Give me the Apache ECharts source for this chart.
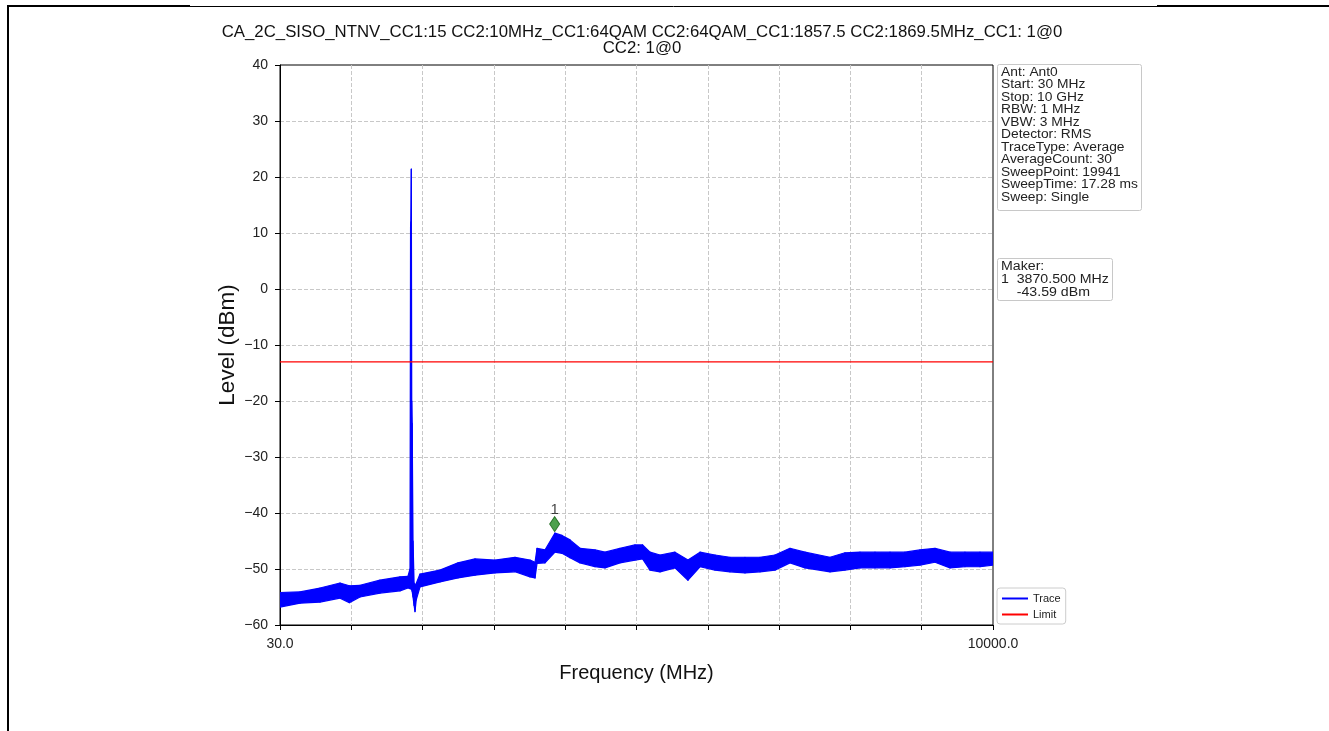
<!DOCTYPE html>
<html><head><meta charset="utf-8">
<script src="https://cdn.jsdelivr.net/npm/echarts@6/dist/echarts.min.js"></script>
<style>html,body{margin:0;padding:0;background:#fff}#c{width:1329px;height:731px}</style>
</head><body><div id="c"></div>
<script>
// ---------- data ----------
const titleLine1 = 'CA_2C_SISO_NTNV_CC1:15 CC2:10MHz_CC1:64QAM CC2:64QAM_CC1:1857.5 CC2:1869.5MHz_CC1: 1@0';
const titleLine2 = 'CC2: 1@0';
const xAxisName = 'Frequency (MHz)';
const yAxisName = 'Level (dBm)';
const xStart = 30, xStop = 10000;
const xEdgeLabels = ['30.0', '10000.0'];
const yMin = -60, yMax = 40, yStep = 10;

// trace envelope (MHz, dBm)
const freqMHz = [30, 310, 589, 869, 1000, 1149, 1428, 1708, 1820, 1848, 1856, 1860, 1866, 1872, 1878, 1890, 1905, 1918, 1935,
  1988, 2267, 2519, 2757, 3036, 3316, 3526, 3596, 3624, 3735, 3875, 3973, 4085, 4225, 4435, 4574, 4784, 4994, 5100,
  5204, 5344, 5553, 5735, 5903, 6113, 6322, 6532, 6742, 6952, 7161, 7371, 7721, 7930, 8140, 8350, 8560, 8769,
  8979, 9189, 9399, 9608, 9818, 10000];
const traceUpper = [-54.2, -54.1, -53.4, -52.5, -53.0, -52.9, -52.0, -51.4, -51.3, -50.0, 11.2, 12.0, 21.4, -20.0, -24.0, -45.0, -52.5, -53.0, -52.6,
  -50.9, -50.2, -48.9, -48.2, -48.4, -47.9, -48.4, -48.8, -46.3, -46.6, -43.6, -44.0, -44.8, -46.3, -46.6, -47.0, -46.3, -45.7, -45.7,
  -47.0, -47.5, -47.0, -48.4, -47.0, -47.5, -47.9, -47.9, -47.9, -47.5, -46.3, -47.0, -47.9, -47.1, -47.0, -47.0, -47.0, -47.0,
  -46.6, -46.3, -47.0, -47.0, -47.0, -47.0];
const traceLower = [-56.8, -56.1, -55.9, -55.2, -56.0, -55.0, -54.3, -53.9, -53.4, -53.5, -53.5, -53.5, -53.6, -53.7, -54.0, -55.0, -56.5, -57.6, -55.5,
  -53.2, -52.3, -51.6, -51.1, -50.7, -50.5, -51.4, -51.6, -49.0, -48.9, -47.0, -47.2, -48.0, -48.9, -49.6, -49.8, -48.9, -48.4, -48.2,
  -50.2, -50.5, -49.8, -52.0, -49.6, -50.2, -50.5, -50.7, -50.5, -50.2, -48.9, -49.8, -50.5, -50.2, -49.8, -49.8, -49.8, -49.6,
  -49.3, -48.8, -49.8, -49.6, -49.6, -49.3];
const limitLevel = -13;
const markerFreq = 3870.5;
const markerLevel = -43.59;
const markerLabel = '1';
const infoLines = ['Ant: Ant0', 'Start: 30 MHz', 'Stop: 10 GHz', 'RBW: 1 MHz', 'VBW: 3 MHz', 'Detector: RMS',
  'TraceType: Average', 'AverageCount: 30', 'SweepPoint: 19941', 'SweepTime: 17.28 ms', 'Sweep: Single'];
const makerLines = ['Maker:', '1  3870.500 MHz', '    -43.59 dBm'];

// ---------- chart ----------
const BLUE = '#0000ff', RED = '#ff0000';
const FONT = 'Liberation Sans, Arial, sans-serif';
const fmtMinus = v => (v < 0 ? '\u2212' + Math.abs(v) : String(v));

const chart = echarts.init(document.getElementById('c'), null, {renderer: 'canvas'});
chart.setOption({
  animation: false,
  backgroundColor: '#fff',
  title: {
    text: titleLine1 + '\n' + titleLine2,
    left: 637, top: 19, textAlign: 'center',
    textStyle: {fontFamily: FONT, fontSize: 16.8, fontWeight: 'normal', color: '#111', lineHeight: 16}
  },
  grid: {left: 280, top: 65, width: 713, height: 560, show: true, borderColor: '#000', borderWidth: 1, backgroundColor: 'transparent'},
  legend: {
    orient: 'vertical', left: 997, top: 588, padding: [5, 5, 4, 5], itemGap: 5,
    itemWidth: 26, itemHeight: 2, icon: 'rect',
    backgroundColor: '#fff', borderColor: '#ccc', borderWidth: 1, borderRadius: 3,
    textStyle: {fontFamily: FONT, fontSize: 11, color: '#222'},
    data: ['Trace', 'Limit']
  },
  xAxis: [
    {type: 'value', min: xStart, max: xStop, show: false},
    {type: 'value', min: 0, max: xStop - xStart, interval: (xStop - xStart) / 10, position: 'bottom',
      name: xAxisName, nameLocation: 'middle', nameGap: 38, nameMoveOverlap: false,
      nameTextStyle: {fontFamily: FONT, fontSize: 20, color: '#111'},
      axisLine: {lineStyle: {color: '#000', width: 1}},
      axisTick: {show: true, length: 5, lineStyle: {color: '#000'}},
      axisLabel: {fontFamily: FONT, fontSize: 14, color: '#222', margin: 12,
        showMinLabel: true, showMaxLabel: true,
        formatter: v => (v === 0 ? xEdgeLabels[0] : (v === xStop - xStart ? xEdgeLabels[1] : ''))},
      splitLine: {show: true, showMinLine: false, showMaxLine: false, lineStyle: {color: '#c8c8c8', type: [4, 2], width: 1}}
    }
  ],
  yAxis: {
    type: 'value', min: yMin, max: yMax, interval: yStep,
    name: yAxisName, nameLocation: 'middle', nameGap: 41, nameMoveOverlap: false,
    nameTextStyle: {fontFamily: FONT, fontSize: 22.5, color: '#111'},
    axisLine: {show: true, lineStyle: {color: '#000', width: 1}},
    axisTick: {show: true, length: 5, lineStyle: {color: '#000'}},
    axisLabel: {fontFamily: FONT, fontSize: 14, color: '#222', margin: 12, formatter: fmtMinus},
    splitLine: {show: true, showMinLine: false, showMaxLine: false, lineStyle: {color: '#c8c8c8', type: [4, 2], width: 1}}
  },
  series: [
    {name: 'Trace', type: 'custom', xAxisIndex: 0, yAxisIndex: 0, clip: true,
      data: freqMHz.map((f, i) => [f, traceUpper[i], traceLower[i]]),
      encode: {x: 0, y: [1, 2]},
      itemStyle: {color: BLUE},
      renderItem: (params, api) => {
        const i = params.dataIndex;
        if (i >= freqMHz.length - 1) return null;
        const a = api.coord([freqMHz[i], traceUpper[i]]);
        const b = api.coord([freqMHz[i + 1], traceUpper[i + 1]]);
        const c = api.coord([freqMHz[i + 1], traceLower[i + 1]]);
        const d = api.coord([freqMHz[i], traceLower[i]]);
        return {type: 'polygon', shape: {points: [a, b, c, d]},
          style: {fill: BLUE, stroke: BLUE, lineWidth: 1.2, lineJoin: 'round'}};
      },
      z: 3},
    {name: 'Limit', type: 'line', xAxisIndex: 0, data: [[xStart, limitLevel], [xStop, limitLevel]],
      showSymbol: false, symbol: 'none', color: RED, lineStyle: {color: RED, width: 1.2}, z: 4},
    {name: 'Marker', type: 'scatter', xAxisIndex: 0, data: [[markerFreq, markerLevel]],
      symbol: 'diamond', symbolSize: [10, 15], symbolOffset: [0, -9],
      itemStyle: {color: '#1f8a1f', borderColor: '#0d5c0d', borderWidth: 1},
      label: {show: true, position: 'top', distance: -1, formatter: markerLabel, fontFamily: FONT, fontSize: 15, color: '#111'},
      z: 5}
  ],
  graphic: [
    {type: 'line', shape: {x1: 7, y1: 6, x2: 190, y2: 6}, style: {stroke: '#000', lineWidth: 2}},
    {type: 'line', shape: {x1: 190, y1: 6.5, x2: 1157, y2: 6.5}, style: {stroke: '#000', lineWidth: 1}},
    {type: 'line', shape: {x1: 1157, y1: 6, x2: 1329, y2: 6}, style: {stroke: '#000', lineWidth: 2}},
    {type: 'line', shape: {x1: 8, y1: 5, x2: 8, y2: 731}, style: {stroke: '#000', lineWidth: 2}},
    {type: 'rect', shape: {x: 997.5, y: 64.5, width: 144, height: 146, r: 2}, style: {fill: '#fff', stroke: '#c8c8c8', lineWidth: 1}, z: 10},
    {type: 'text', x: 1001, y: 66, scaleX: 1.15, z: 11, style: {text: infoLines.join('\n'), font: '12px ' + FONT, fill: '#222', lineHeight: 12.5}},
    {type: 'rect', shape: {x: 997.5, y: 258.5, width: 115, height: 42, r: 2}, style: {fill: '#fff', stroke: '#c8c8c8', lineWidth: 1}, z: 10},
    {type: 'text', x: 1001, y: 260, scaleX: 1.18, z: 11, style: {text: makerLines.join('\n'), font: '12px ' + FONT, fill: '#222', lineHeight: 13}}
  ]
});
</script>
</body></html>
